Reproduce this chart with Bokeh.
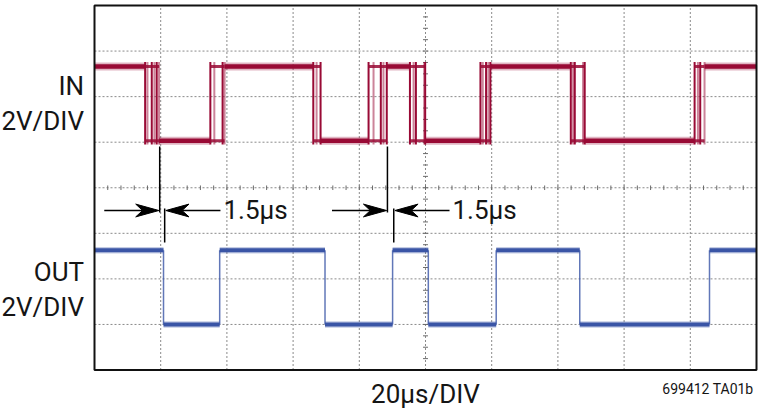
import numpy as np
from bokeh.plotting import figure
from bokeh.models import Range1d
from bokeh.core.properties import value
from bokeh.embed import file_html
from bokeh.resources import INLINE

# ---------------- data (time in µs: 20 µs/DIV x 10 DIV; level in DIV from screen centre) -------------
x_div_ticks = [0, 20, 40, 60, 80, 100, 120, 140, 160, 180, 200]
y_div_ticks = [-4, -3, -2, -1, 0, 1, 2, 3, 4]

in_high = 2.66
in_low = 1.03
# IN: persistence display, each transition shows several jittered edges (first group = falling)
in_fall_1 = [15.3, 16.0, 17.3, 18.1, 18.8, 19.5]
in_rise_1 = [35.0, 36.2, 38.7, 39.3]
in_fall_2 = [66.1, 67.1, 68.3]
in_rise_2 = [82.8, 84.3, 86.5, 87.3, 88.3]
in_fall_3 = [95.3, 96.4, 97.1, 99.6, 99.9]
in_rise_3 = [116.6, 117.3, 118.3, 119.0, 119.6]
in_fall_4 = [143.9, 144.6, 145.1, 147.6, 148.1]
in_rise_4 = [181.3, 182.3, 183.0, 184.3]
in_edge_groups = [in_fall_1, in_rise_1, in_fall_2, in_rise_2,
                  in_fall_3, in_rise_3, in_fall_4, in_rise_4]

out_high = -1.37
out_low = -3.0
# OUT: starts high, alternating falling / rising edges
out_edges = [20.85, 37.82, 69.64, 90.06, 100.85, 121.36, 146.6, 185.8]

# propagation-delay markers: (IN edge, OUT edge)
delay_pairs = [(in_fall_1[-1], out_edges[0]), (in_rise_2[-1], out_edges[3])]
delay_text = "1.5µs"

in_labels = ["IN", "2V/DIV"]
out_labels = ["OUT", "2V/DIV"]
x_label = "20µs/DIV"
fig_id = "699412 TA01b"

# ---------------- layout: the whole canvas is the data frame -------------
W, H = 760, 412
PX_L, PX_R = 94.0, 756.0   # screen x of scope left / right border
PX_T, PX_B = 5.0, 369.5    # screen y of scope top / bottom border
T0, T1 = x_div_ticks[0], x_div_ticks[-1]
V0, V1 = y_div_ticks[0], y_div_ticks[-1]
SX = (PX_R - PX_L) / (T1 - T0)
SY = (PX_B - PX_T) / (V1 - V0)
PY_C = (PX_T + PX_B) / 2


def fx(px):
    return T0 + (px - PX_L) / SX


def fy(py):
    return (PY_C - py) / SY


IN_COLOR = "#990a35"
OUT_COLOR = "#3a55a6"
TXT = "#151515"
FONT = value("Roboto")
MID = value("middle")

p = figure(width=W, height=H, x_range=Range1d(fx(0), fx(W)),
           y_range=Range1d(fy(H), fy(0)),
           x_axis_type=None, y_axis_type=None, toolbar_location=None,
           output_backend="svg", min_border=0)
p.min_border_left = p.min_border_right = p.min_border_top = p.min_border_bottom = 0
p.background_fill_color = "white"
p.border_fill_color = "white"
p.outline_line_color = None
p.xgrid.visible = False
p.ygrid.visible = False

# graticule
p.segment(x0=x_div_ticks, x1=x_div_ticks, y0=V0, y1=V1,
          line_color="#8a8a8a", line_dash="2 2", line_width=1)
p.segment(x0=T0, x1=T1, y0=y_div_ticks, y1=y_div_ticks,
          line_color="#8a8a8a", line_dash="2 2", line_width=1)
xc = (T0 + T1) / 2
y_minor = np.arange(V0, V1 + 1e-9, 0.25)
x_minor = np.arange(T0, T1 + 1e-9, (x_div_ticks[1] - x_div_ticks[0]) / 5)
p.segment(x0=xc - 0.75, x1=xc + 0.75, y0=y_minor, y1=y_minor,
          line_color="#6a6a6a", line_width=1)
p.segment(x0=x_minor, x1=x_minor, y0=-0.05, y1=0.05,
          line_color="#6a6a6a", line_width=1)

# ---------------- IN trace -------------
band_x0, band_x1, band_y = [], [], []
jit_x0, jit_x1, jit_y = [], [], []
edge_x, edge_alpha = [], []
prev = T0
level_high = True
for g in in_edge_groups:
    lvl = in_high if level_high else in_low
    band_x0.append(prev); band_x1.append(min(g)); band_y.append(lvl)
    for l in (in_high, in_low):
        jit_x0.append(min(g)); jit_x1.append(max(g)); jit_y.append(l)
    for k, e in enumerate(g):
        edge_x.append(e)
        edge_alpha.append(1.0 if k % 2 == 0 else 0.5)
    prev = max(g)
    level_high = not level_high
band_x0.append(prev); band_x1.append(T1)
band_y.append(in_high if level_high else in_low)

p.segment(x0=band_x0, x1=band_x1, y0=band_y, y1=band_y,
          line_color=IN_COLOR, line_width=8, line_alpha=0.3)
p.segment(x0=band_x0, x1=band_x1, y0=band_y, y1=band_y,
          line_color=IN_COLOR, line_width=4.5)
p.segment(x0=jit_x0, x1=jit_x1, y0=jit_y, y1=jit_y,
          line_color=IN_COLOR, line_width=3, line_alpha=0.85)
p.segment(x0=edge_x, x1=edge_x, y0=in_low - 0.08, y1=in_high + 0.1,
          line_color=IN_COLOR, line_width=2, line_alpha=edge_alpha)

# ---------------- OUT trace -------------
ox = [T0] + out_edges + [T1]
oy = [out_high if i % 2 == 0 else out_low for i in range(len(ox) - 1)]
p.segment(x0=ox[:-1], x1=ox[1:], y0=oy, y1=oy,
          line_color=OUT_COLOR, line_width=6.5, line_alpha=0.3)
p.segment(x0=ox[:-1], x1=ox[1:], y0=oy, y1=oy,
          line_color=OUT_COLOR, line_width=4)
p.segment(x0=out_edges, x1=out_edges, y0=out_low, y1=out_high,
          line_color=OUT_COLOR, line_width=1.5, line_alpha=0.8)

# scope border
p.quad(left=T0, right=T1, bottom=V0, top=V1, fill_color=None,
       line_color="#111111", line_width=2)

# ---------------- delay markers -------------
arrow_y = fy(210)
shaft = 16.5
hl, hw = 7.0, 0.14
txt_x, txt_y = [], []
for ein, eout in delay_pairs:
    lx = ein + 0.2
    rx = eout + 0.35
    p.segment(x0=[lx, rx], x1=[lx, rx], y0=[fy(146), fy(208)], y1=[fy(212), fy(242)],
              line_color="black", line_width=1.5)
    ltip, rtip = lx - 0.25, rx + 0.35
    p.segment(x0=[ltip - shaft, rtip + 0.7 * hl], x1=[ltip - 0.7 * hl, rtip + shaft],
              y0=[arrow_y, arrow_y], y1=[arrow_y, arrow_y],
              line_color="black", line_width=1.5)
    p.patches(xs=[[ltip, ltip - hl, ltip - 0.7 * hl, ltip - hl],
                  [rtip, rtip + hl, rtip + 0.7 * hl, rtip + hl]],
              ys=[[arrow_y, arrow_y + hw, arrow_y, arrow_y - hw]] * 2,
              fill_color="black", line_color="black", line_width=1)
    txt_x.append(rtip + shaft + 0.9)
    txt_y.append(fy(209.5))
p.text(x=txt_x, y=txt_y, text=[delay_text] * len(txt_x), text_font=FONT,
       text_font_size=value("26px"), text_color=TXT, text_align=value("left"),
       text_baseline=MID)

# ---------------- side / bottom texts -------------
p.text(x=[fx(83.5)] * 4, y=[fy(85.8), fy(120.8), fy(271.7), fy(306.5)],
       text=in_labels + out_labels, text_font=FONT, text_font_size=value("26px"),
       text_color=TXT, text_align=value("right"), text_baseline=MID)
p.text(x=[fx(425)], y=[fy(393.3)], text=[x_label], text_font=FONT,
       text_font_size=value("26px"), text_color=TXT, text_align=value("center"),
       text_baseline=MID)
p.text(x=[fx(753)], y=[fy(388)], text=[fig_id], text_font=FONT,
       text_font_size=value("14px"), text_color=TXT, text_align=value("right"),
       text_baseline=MID)

open("out.html", "w").write(file_html(p, INLINE))
